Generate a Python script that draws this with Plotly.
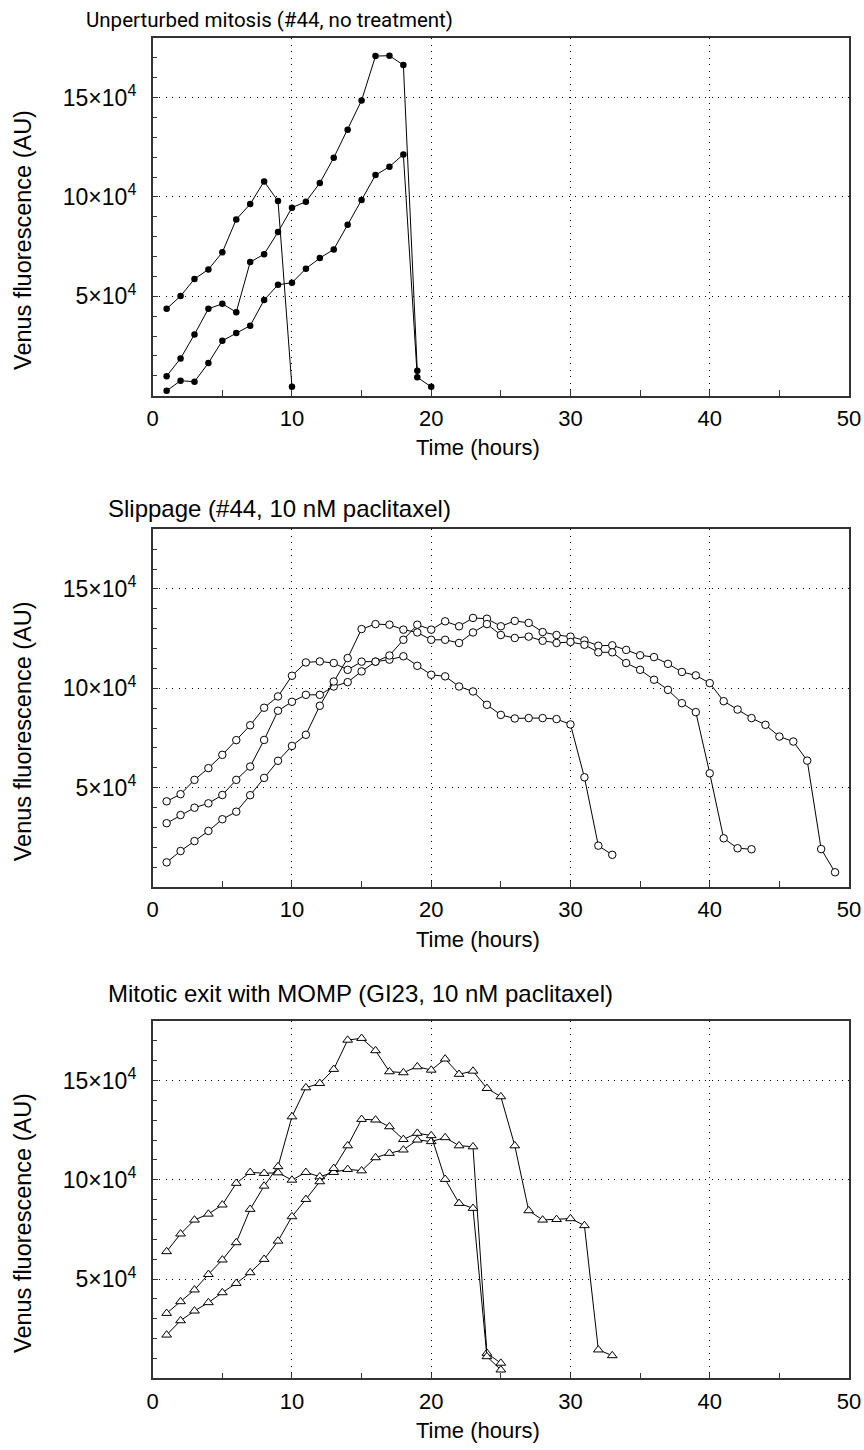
import plotly.graph_objects as go

W, H = 864, 1450

# ---------------- data (Venus fluorescence in units of 10^4 AU, hourly samples starting at 1 h) -------------
# Panel 1: Unperturbed mitosis (#44, no treatment)
unpert_a = [4.37, 5.01, 5.87, 6.35, 7.21, 8.87, 9.64, 10.78, 9.79, 0.44]
unpert_b = [0.98, 1.87, 3.08, 4.37, 4.62, 4.20, 6.72, 7.12, 8.23, 9.46, 9.76, 10.70,
            11.97, 13.38, 14.86, 17.09, 17.11, 16.64, 1.25]
unpert_c = [0.24, 0.75, 0.70, 1.64, 2.76, 3.15, 3.52, 4.81, 5.58, 5.68, 6.39, 6.92,
            7.36, 8.60, 9.84, 11.10, 11.52, 12.14, 0.92, 0.44]

# Panel 2: Slippage (#44, 10 nM paclitaxel)
slip_a = [4.31, 4.67, 5.39, 5.98, 6.65, 7.39, 8.14, 9.02, 9.59, 10.63, 11.30, 11.35,
          11.27, 10.93, 11.34, 11.34, 11.44, 11.61, 11.13, 10.68, 10.60, 10.09, 9.84,
          9.17, 8.66, 8.48, 8.50, 8.50, 8.45, 8.18, 5.52, 2.08, 1.62]
slip_b = [3.21, 3.62, 3.99, 4.21, 4.63, 5.39, 6.06, 7.40, 8.87, 9.32, 9.67, 9.67,
          10.09, 10.31, 10.85, 11.34, 11.65, 12.44, 13.20, 12.95, 13.37, 13.12, 13.54,
          13.50, 13.12, 13.39, 13.29, 12.83, 12.68, 12.60, 12.41, 12.14, 12.16, 11.93,
          11.66, 11.57, 11.23, 10.82, 10.65, 10.26, 9.35, 8.93, 8.50, 8.16, 7.57, 7.32,
          6.36, 1.91, 0.74]
slip_c = [1.24, 1.81, 2.31, 2.82, 3.41, 3.79, 4.62, 5.49, 6.35, 7.10, 7.66, 9.12,
          10.34, 11.52, 12.98, 13.23, 13.20, 12.95, 12.81, 12.44, 12.44, 12.28, 12.81,
          13.23, 12.68, 12.53, 12.60, 12.39, 12.28, 12.33, 12.19, 11.81, 11.81, 11.27,
          10.93, 10.43, 9.92, 9.25, 8.80, 5.72, 2.45, 1.95, 1.90]

# Panel 3: Mitotic exit with MOMP (GI23, 10 nM paclitaxel)
momp_a = [6.39, 7.28, 7.98, 8.28, 8.74, 9.83, 10.38, 10.33, 10.36, 9.99, 10.38, 10.16,
          10.38, 10.53, 10.46, 11.12, 11.34, 11.51, 12.01, 11.93, 12.13, 11.72, 11.67,
          1.27, 0.77]
momp_b = [3.28, 3.87, 4.46, 5.24, 5.97, 6.84, 8.52, 9.69, 10.67, 13.18, 14.64, 14.86,
          15.57, 17.04, 17.13, 16.51, 15.45, 15.40, 15.70, 15.53, 16.09, 15.32, 15.48,
          14.61, 14.19, 11.72, 8.45, 7.98, 8.01, 8.05, 7.70, 1.44, 1.15]
momp_c = [2.19, 2.91, 3.40, 3.82, 4.32, 4.79, 5.33, 6.00, 6.92, 8.15, 9.02, 9.91,
          10.58, 11.72, 13.05, 13.02, 12.68, 12.04, 12.35, 12.23, 10.03, 8.82, 8.57,
          1.10, 0.43]

titles = ["Unperturbed mitosis (#44, no treatment)",
          "Slippage (#44, 10 nM paclitaxel)",
          "Mitotic exit with MOMP (GI23, 10 nM paclitaxel)"]
y_label = "Venus fluorescence (AU)"
x_label = "Time (hours)"
x_ticks = [0, 10, 20, 30, 40, 50]
x_minor = [5, 15, 25, 35, 45]
y_ticks = [5e4, 10e4, 15e4]
y_ticktext = ["5×10<sup>4</sup>", "10×10<sup>4</sup>", "15×10<sup>4</sup>"]
y_minor = [1e4, 2e4, 3e4, 4e4, 6e4, 7e4, 8e4, 9e4, 11e4, 12e4, 13e4, 14e4, 16e4, 17e4]

panels_data = [[unpert_a, unpert_b, unpert_c],
               [slip_a, slip_b, slip_c],
               [momp_a, momp_b, momp_c]]

# ---------------- layout geometry (page pixels) ----------------
frame_left, frame_right = 152.7, 849.0
frames = [(38.0, 395.6), (529.3, 887.0), (1021.0, 1378.4)]  # (top, bottom)
title_baseline = [27.0, 515.5, 1000.7]
title_left = [84.0, 106.0, 106.0]

FONT = "Liberation Sans, Arial, Helvetica, sans-serif"
title_fonts = [dict(family="Roboto, Liberation Sans, sans-serif", size=20.5, color="black"),
               dict(family=FONT, size=24, color="black"),
               dict(family=FONT, size=24, color="black")]
AXC = "#333333"


def px(x):
    return x / W


def py(y):
    return 1 - y / H


markers = [
    dict(symbol="circle", size=6.5, color="black", line=dict(width=0)),
    dict(symbol="circle", size=7.5, color="white", line=dict(color="black", width=1)),
    dict(symbol="triangle-up", size=8.5, color="white", line=dict(color="black", width=1)),
]

fig = go.Figure()
annotations = []

for i, series in enumerate(panels_data):
    xa = "x" if i == 0 else f"x{i+1}"
    ya = "y" if i == 0 else f"y{i+1}"
    for vals in series:
        t = list(range(1, len(vals) + 1))
        fig.add_trace(go.Scatter(
            x=t, y=[v * 1e4 for v in vals], mode="lines+markers",
            line=dict(color="black", width=1),
            marker=markers[i], xaxis=xa, yaxis=ya, showlegend=False,
            hoverinfo="x+y"))

    top, bottom = frames[i]
    xkey = "xaxis" if i == 0 else f"xaxis{i+1}"
    ykey = "yaxis" if i == 0 else f"yaxis{i+1}"
    fig.update_layout(**{
        xkey: dict(
            domain=[px(frame_left), px(frame_right)], anchor=ya, range=[0, 50],
            tickmode="array", tickvals=x_ticks, ticktext=[str(v) for v in x_ticks],
            ticks="inside", ticklen=6, tickwidth=1, tickcolor=AXC,
            showline=True, linecolor=AXC, linewidth=1.5, mirror=True,
            showgrid=True, gridcolor="black", gridwidth=1, griddash="1px,5.5px",
            zeroline=False, automargin=False, ticklabelstandoff=2,
            ticklabeloverflow="allow",
            tickfont=dict(family=FONT, size=22, color="black"),
            minor=dict(tickmode="array", tickvals=x_minor, ticks="inside",
                       ticklen=6, tickwidth=1, tickcolor=AXC, showgrid=False),
        ),
        ykey: dict(
            domain=[py(bottom), py(top)], anchor=xa, range=[0, 18e4],
            tickmode="array", tickvals=y_ticks, ticktext=y_ticktext,
            ticks="inside", ticklen=6, tickwidth=1, tickcolor=AXC,
            showline=True, linecolor=AXC, linewidth=1.5, mirror=True,
            showgrid=True, gridcolor="black", gridwidth=1, griddash="1px,5.5px",
            zeroline=False, automargin=False, ticklabelstandoff=10,
            tickfont=dict(family=FONT, size=23, color="black"),
            minor=dict(tickmode="array", tickvals=y_minor, ticks="inside",
                       ticklen=5, tickwidth=1, tickcolor=AXC, showgrid=False),
        ),
    })

    # title
    annotations.append(dict(
        text=titles[i], xref="paper", yref="paper", x=px(title_left[i]),
        y=py(title_baseline[i] - 7), xanchor="left", yanchor="middle",
        showarrow=False, font=title_fonts[i]))
    # y label
    annotations.append(dict(
        text=y_label, xref="paper", yref="paper", x=px(22.5),
        y=py(top + 202.5), xanchor="center", yanchor="middle",
        textangle=-90, showarrow=False,
        font=dict(family=FONT, size=23.5, color="black")))
    # x label
    annotations.append(dict(
        text=x_label, xref="paper", yref="paper", x=px(478),
        y=py(bottom + 52), xanchor="center", yanchor="middle",
        showarrow=False, font=dict(family=FONT, size=22, color="black")))

fig.update_layout(
    width=W, height=H, margin=dict(l=0, r=0, t=0, b=0),
    paper_bgcolor="white", plot_bgcolor="white",
    annotations=annotations, showlegend=False,
)

# remove the browser's default 8 px page margin so the figure fills the window
fig.write_html(
    "out.html",
    config={"displayModeBar": False},
    post_script="document.body.style.margin='0';"
                "document.documentElement.style.overflow='hidden';"
                "document.body.style.overflow='hidden';",
)
